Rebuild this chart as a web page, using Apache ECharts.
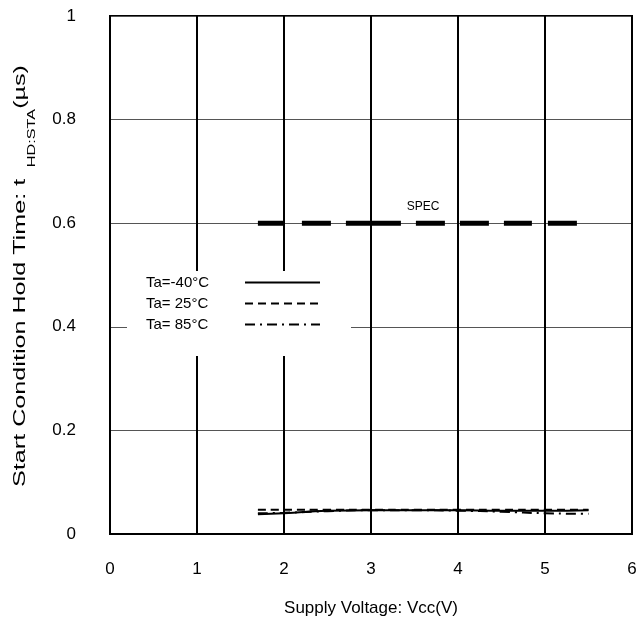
<!DOCTYPE html>
<html>
<head>
<meta charset="utf-8">
<script src="https://cdn.jsdelivr.net/npm/echarts@6/dist/echarts.min.js"></script>
<style>
  html, body { margin: 0; padding: 0; background: #fff; }
  #chart { width: 642px; height: 630px; }
</style>
</head>
<body>
<div id="chart"></div>
<script>
// Supply voltage samples (V)
const vcc = [1.7, 2.0, 2.5, 3.0, 3.5, 4.0, 4.5, 5.0, 5.5];
// Start condition hold time tHD:STA (µs) per ambient temperature
const tMinus40 = [0.038, 0.040, 0.045, 0.046, 0.046, 0.046, 0.045, 0.045, 0.046];
const t25      = [0.047, 0.047, 0.047, 0.047, 0.047, 0.047, 0.047, 0.047, 0.047];
const t85      = [0.040, 0.041, 0.044, 0.046, 0.046, 0.045, 0.043, 0.040, 0.039];
// Specification limit
const specVcc = [1.7, 5.5];
const specValue = 0.6;
const specLabelAt = 3.6;

const seriesNames = ['Ta=-40°C', 'Ta= 25°C', 'Ta= 85°C'];
const xTicks = [0, 1, 2, 3, 4, 5, 6];
const yTicks = [0, 0.2, 0.4, 0.6, 0.8, 1];

const FONT = '"Liberation Sans", Arial, sans-serif';
const pairs = (xs, ys) => xs.map((x, i) => [x, ys[i]]);

const chart = echarts.init(document.getElementById('chart'), null, { renderer: 'canvas' });

chart.setOption({
  animation: false,
  backgroundColor: '#fff',
  grid: {
    left: 110, right: 10, top: 16, bottom: 96,
    show: true, borderColor: '#000', borderWidth: 2, backgroundColor: 'transparent'
  },
  // Y-axis title, drawn as a rotated and lengthwise-stretched text block
  graphic: [{
    type: 'text',
    x: 20, y: 276,
    rotation: Math.PI / 2,
    scaleX: 1.48,
    style: {
      text: '{a|Start Condition Hold Time: t }{s| HD:STA}{a|(µs)}',
      align: 'center', verticalAlign: 'middle',
      fill: '#000',
      rich: {
        a: { fontFamily: FONT, fontSize: 17, fill: '#000', lineHeight: 34, verticalAlign: 'middle' },
        s: { fontFamily: FONT, fontSize: 11, fill: '#000', lineHeight: 14, verticalAlign: 'bottom' }
      }
    }
  }],
  xAxis: {
    type: 'value',
    min: xTicks[0], max: xTicks[xTicks.length - 1], interval: 1,
    name: 'Supply Voltage: Vcc(V)',
    nameLocation: 'middle', nameGap: 66,
    nameTextStyle: { fontFamily: FONT, fontSize: 17, color: '#000' },
    axisLine: { show: true, lineStyle: { color: '#000', width: 2 } },
    axisTick: { show: false },
    axisLabel: { margin: 27, fontFamily: FONT, fontSize: 17, color: '#000' },
    splitLine: { show: true, lineStyle: { color: '#000', width: 2 } }
  },
  yAxis: {
    type: 'value',
    min: yTicks[0], max: yTicks[yTicks.length - 1], interval: 0.2,
    axisLine: { show: true, lineStyle: { color: '#000', width: 2 } },
    axisTick: { show: false },
    axisLabel: { margin: 34, fontFamily: FONT, fontSize: 17, color: '#000' },
    splitLine: { show: true, lineStyle: { color: '#555', width: 1 } }
  },
  legend: {
    show: true,
    data: seriesNames,
    orient: 'vertical',
    left: 127, top: 271,
    align: 'right',
    backgroundColor: '#fff',
    padding: [4, 30, 24, 19],
    itemGap: 6,
    itemWidth: 75, itemHeight: 14,
    // line-only legend keys: the marker drawn over each key line is made invisible
    itemStyle: { color: 'rgba(0,0,0,0)', borderColor: 'rgba(0,0,0,0)', borderWidth: 0 },
    formatter: '{t|{name}}',
    textStyle: {
      fontFamily: FONT, fontSize: 15, color: '#000',
      rich: { t: { width: 94, align: 'left', fontFamily: FONT, fontSize: 15, lineHeight: 15, color: '#000' } }
    }
  },
  series: [
    {
      name: seriesNames[0], type: 'line', data: pairs(vcc, tMinus40),
      symbol: 'none', smooth: true,
      lineStyle: { color: '#000', width: 2, type: 'solid' }, itemStyle: { color: '#000' }
    },
    {
      name: seriesNames[1], type: 'line', data: pairs(vcc, t25),
      symbol: 'none', smooth: true,
      lineStyle: { color: '#000', width: 2, type: [8, 5] }, itemStyle: { color: '#000' }
    },
    {
      name: seriesNames[2], type: 'line', data: pairs(vcc, t85),
      symbol: 'none', smooth: true,
      lineStyle: { color: '#000', width: 2, type: [10, 5, 2, 5] }, itemStyle: { color: '#000' }
    },
    {
      name: 'SPEC', type: 'line',
      data: specVcc.map(x => [x, specValue]),
      symbol: 'none',
      lineStyle: { color: '#000', width: 5, type: [27, 17, 29, 15, 55, 15, 29, 15, 29, 15, 28, 16, 29, 40] },
      markPoint: {
        symbol: 'circle', symbolSize: 1,
        itemStyle: { color: 'rgba(0,0,0,0)' },
        label: { show: true, position: 'top', distance: 10, formatter: 'SPEC', fontFamily: FONT, fontSize: 12, color: '#000' },
        data: [{ coord: [specLabelAt, specValue] }]
      }
    }
  ]
});
</script>
</body>
</html>
